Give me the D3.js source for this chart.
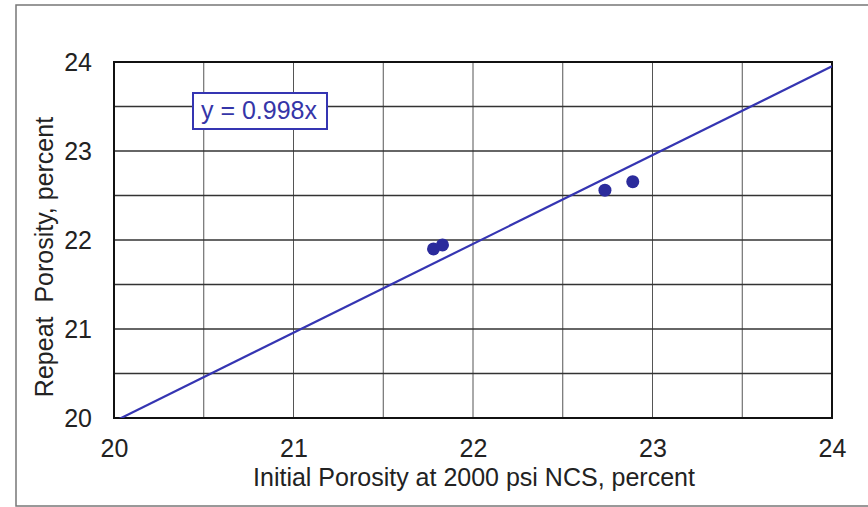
<!DOCTYPE html>
<html>
<head>
<meta charset="utf-8">
<script src="https://cdn.jsdelivr.net/npm/d3@7"></script>
<style>
  body { margin: 0; background: #fff; }
  svg text { font-family: "Liberation Sans", Arial, sans-serif; fill: #222; }
</style>
</head>
<body>
<div id="chart"></div>
<script>
// data
const initialPorosity = [21.78, 21.83, 22.735, 22.89];
const repeatPorosity  = [21.90, 21.945, 22.56, 22.655];
const slope = 0.998;
const xTicks = [20, 21, 22, 23, 24];
const yTicks = [20, 21, 22, 23, 24];
const gridStep = 0.5;

const W = 868, H = 507;
const margin = { top: 62, right: 35, bottom: 89, left: 114 },
      width = 832 - margin.left,
      height = 418 - margin.top;

const svg = d3.select("#chart").append("svg")
  .attr("width", W).attr("height", H);

// outer frame
svg.append("rect")
  .attr("x", 16).attr("y", 5)
  .attr("width", W).attr("height", H - 6)
  .attr("fill", "none").attr("stroke", "#777").attr("stroke-width", 1.5);

const g = svg.append("g").attr("transform", `translate(${margin.left},${margin.top})`);

const x = d3.scaleLinear().domain([20, 24]).range([0, width]);
const y = d3.scaleLinear().domain([20, 24]).range([height, 0]);

const gridVals = d3.range(20, 24 + 1e-9, gridStep);

// grid
g.append("g").selectAll("line")
  .data(gridVals.slice(1, -1))
  .join("line")
  .attr("x1", d => x(d)).attr("x2", d => x(d))
  .attr("y1", 0).attr("y2", height)
  .attr("stroke", "#555").attr("stroke-width", 1);

g.append("g").selectAll("line")
  .data(gridVals.slice(1, -1))
  .join("line")
  .attr("y1", d => y(d)).attr("y2", d => y(d))
  .attr("x1", 0).attr("x2", width)
  .attr("stroke", "#333").attr("stroke-width", 1.5);

// axes (labels only, frame drawn separately)
const xAxis = g.append("g")
  .attr("transform", `translate(0,${height})`)
  .call(d3.axisBottom(x).tickValues(xTicks).tickSize(0).tickPadding(21).tickFormat(d3.format("d")));
xAxis.select(".domain").remove();
xAxis.selectAll("text").style("font-size", "25px").attr("fill", "#222");

const yAxis = g.append("g")
  .call(d3.axisLeft(y).tickValues(yTicks).tickSize(0).tickPadding(22).tickFormat(d3.format("d")));
yAxis.select(".domain").remove();
yAxis.selectAll("text").style("font-size", "25px").attr("fill", "#222");

// plot border
g.append("rect")
  .attr("width", width).attr("height", height)
  .attr("fill", "none").attr("stroke", "#111").attr("stroke-width", 2);

// fitted line y = 0.998x, clipped to plot
g.append("clipPath").attr("id", "clip")
  .append("rect").attr("width", width).attr("height", height);

const lineData = [20, 24].map(v => ({ x: v, y: slope * v }));
g.append("path")
  .datum(lineData)
  .attr("clip-path", "url(#clip)")
  .attr("fill", "none")
  .attr("stroke", "#3535b2")
  .attr("stroke-width", 2.2)
  .attr("d", d3.line().x(d => x(d.x)).y(d => y(d.y)));

// points
g.append("g").selectAll("circle")
  .data(initialPorosity.map((v, i) => [v, repeatPorosity[i]]))
  .join("circle")
  .attr("cx", d => x(d[0]))
  .attr("cy", d => y(d[1]))
  .attr("r", 6.5)
  .attr("fill", "#2b2b9c");

// equation box
const eq = svg.append("g").attr("transform", "translate(193,93)");
eq.append("rect")
  .attr("width", 134).attr("height", 36)
  .attr("fill", "#fff").attr("stroke", "#3535b2").attr("stroke-width", 2);
eq.append("text")
  .attr("x", 66).attr("y", 26)
  .attr("text-anchor", "middle")
  .style("font-size", "25px")
  .style("fill", "#3535a8")
  .text(`y = ${slope}x`);

// axis titles
svg.append("text")
  .attr("x", 474).attr("y", 486)
  .attr("text-anchor", "middle")
  .style("font-size", "25px")
  .text("Initial Porosity at 2000 psi NCS, percent");

svg.append("text")
  .attr("transform", "translate(53,257) rotate(-90)")
  .attr("text-anchor", "middle")
  .style("font-size", "25px")
  .style("white-space", "pre")
  .text("Repeat  Porosity, percent");
</script>
</body>
</html>
